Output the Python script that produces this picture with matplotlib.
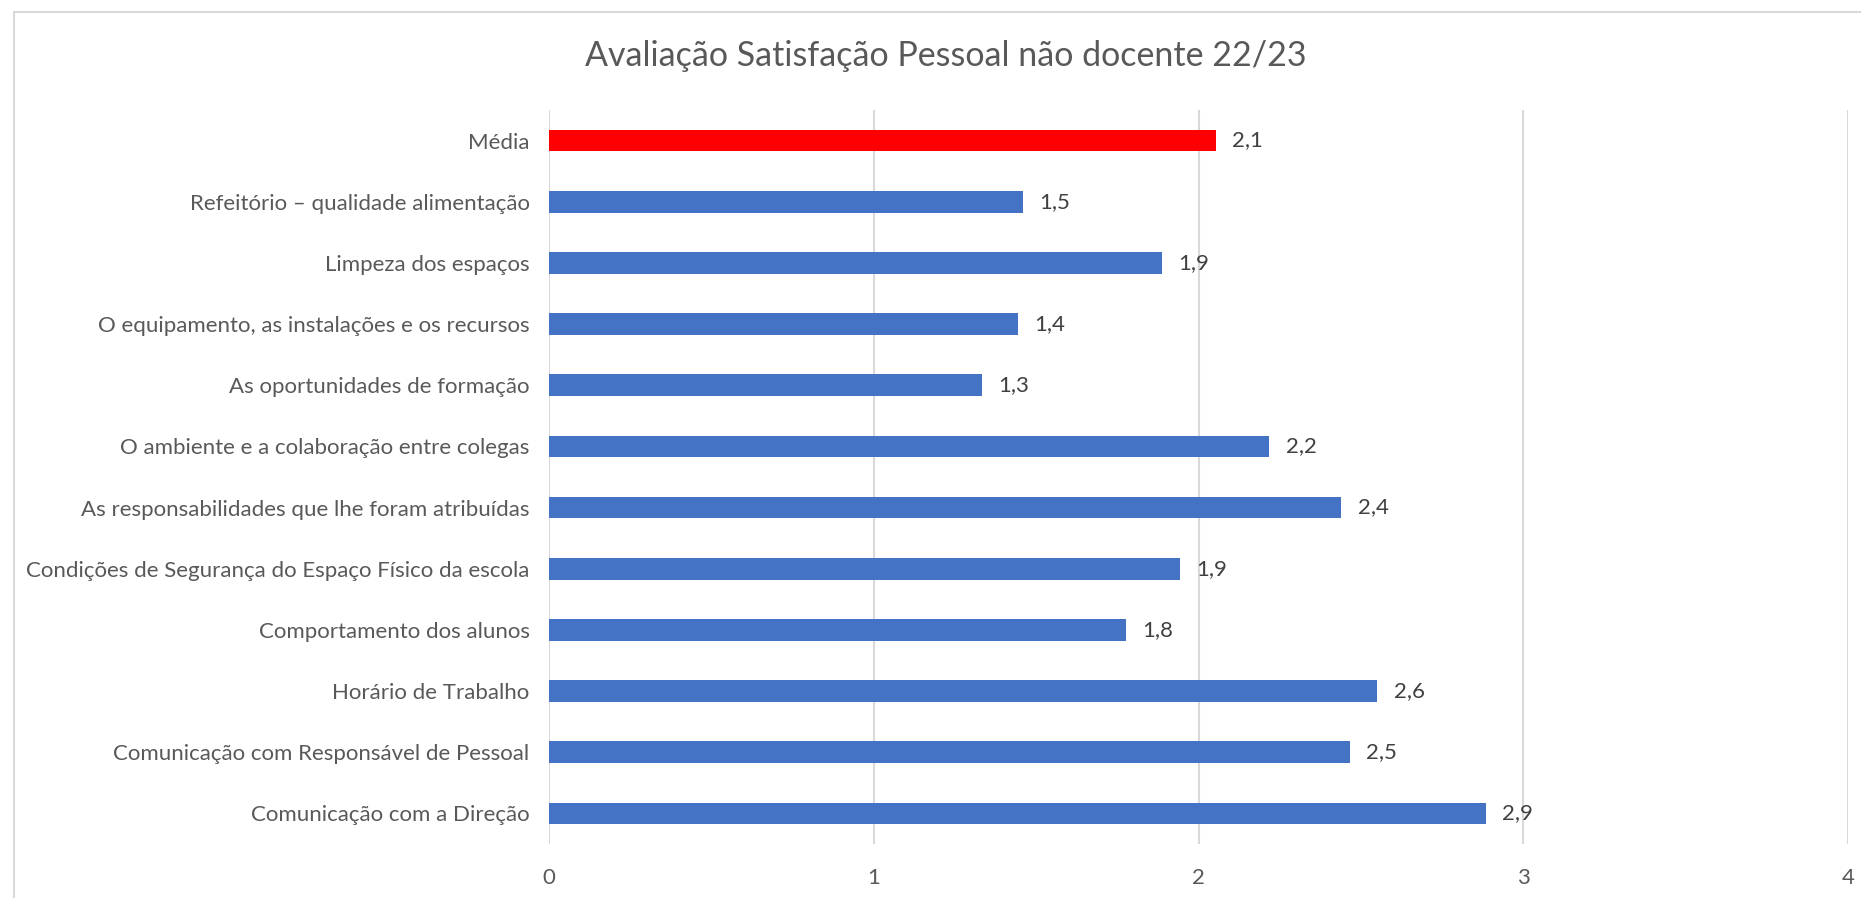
import numpy as np
import matplotlib
matplotlib.use("Agg")
import matplotlib.pyplot as plt
from matplotlib.patches import Rectangle

plt.rcParams['font.family'] = ['Lato', 'DejaVu Sans']

# categorias de baixo para cima
categorias = [
    "Comunicação com a Direção",
    "Comunicação com Responsável de Pessoal",
    "Horário de Trabalho",
    "Comportamento dos alunos",
    "Condições de Segurança do Espaço Físico da escola",
    "As responsabilidades que lhe foram atribuídas",
    "O ambiente e a colaboração entre colegas",
    "As oportunidades de formação",
    "O equipamento, as instalações e os recursos",
    "Limpeza dos espaços",
    "Refeitório – qualidade alimentação",
    "Média",
]
valores = [2.885, 2.467, 2.551, 1.776, 1.944, 2.44, 2.218, 1.333, 1.444, 1.888, 1.46, 2.053]
cores = ["#4472C4"] * 11 + ["#FF0000"]
xticks = [0, 1, 2, 3, 4]

fig = plt.figure(figsize=(18.61, 8.98), dpi=100)
fig.patches.append(Rectangle((14 / 1861, -0.01), 1.0, 1 - 12 / 898 + 0.01,
                             transform=fig.transFigure, fill=False,
                             edgecolor="#D9D9D9", linewidth=1.5))
ax = fig.add_axes([549 / 1861, 1 - 844 / 898, (1848 - 549) / 1861, (844 - 110) / 898])

y = np.arange(len(categorias))
ax.barh(y, valores, height=0.355, color=cores, zorder=3)

for yi, v in zip(y, valores):
    ax.text(v + 0.05, yi, f"{v:.1f}".replace(".", ","), va="center", ha="left",
            fontsize=16, color="#404040")

ax.set_xlim(0, 4)
ax.set_ylim(-0.5, len(categorias) - 0.5)
ax.set_xticks(xticks)
ax.set_xticklabels([str(t) for t in xticks])
ax.set_yticks(y)
ax.set_yticklabels(categorias)
ax.tick_params(axis="y", length=0, pad=14, labelsize=16, labelcolor="#595959")
ax.tick_params(axis="x", length=0, pad=17, labelsize=16, labelcolor="#595959")
ax.grid(axis="x", color="#D9D9D9", linewidth=1.5, zorder=0)
for s in ax.spines.values():
    s.set_visible(False)

fig.text(946 / 1861, 1 - 56 / 898, "Avaliação Satisfação Pessoal não docente 22/23",
         ha="center", va="center", fontsize=24.5, color="#595959")

fig.savefig("out.png", dpi=100)
